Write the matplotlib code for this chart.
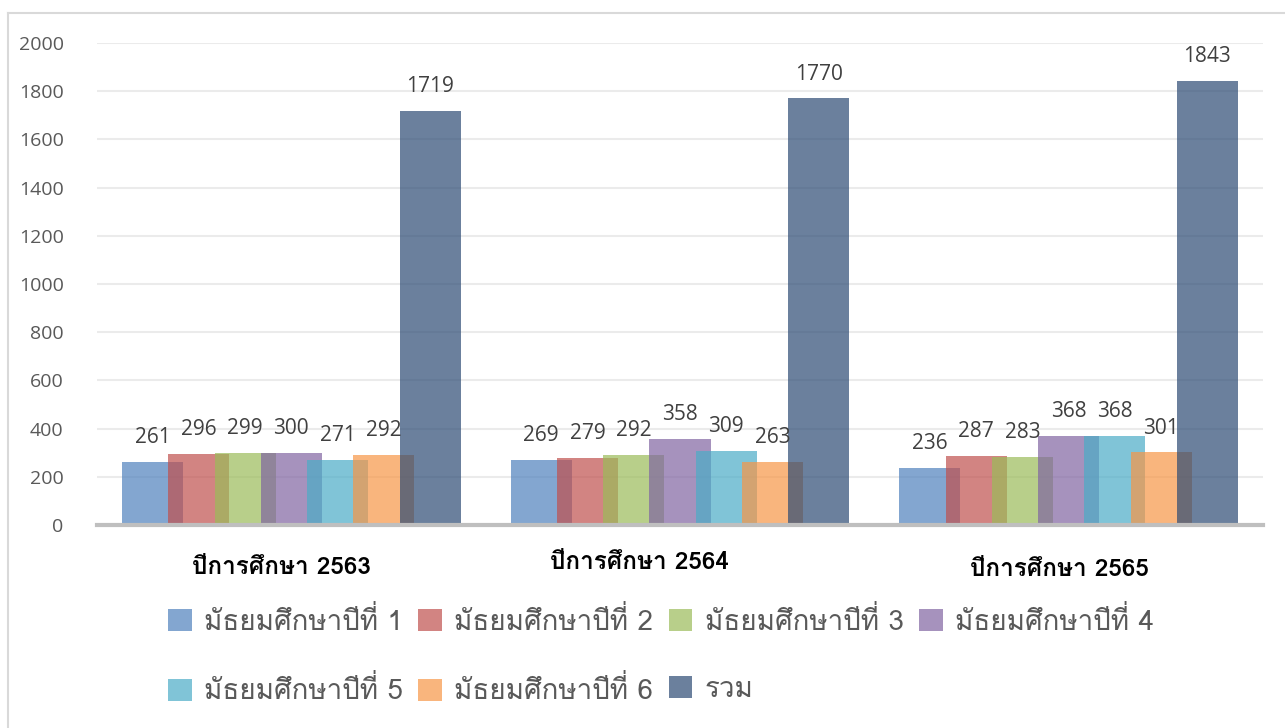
import numpy as np
import matplotlib
matplotlib.use('Agg')
import matplotlib.pyplot as plt
from matplotlib import font_manager as fm
from matplotlib.lines import Line2D
from matplotlib.patches import Patch
from fontTools.ttLib import TTFont

# ข้อมูลจำนวนนักเรียน
years = ['ปีการศึกษา 2563', 'ปีการศึกษา 2564', 'ปีการศึกษา 2565']
series_names = ['มัธยมศึกษาปีที่ 1', 'มัธยมศึกษาปีที่ 2', 'มัธยมศึกษาปีที่ 3',
                'มัธยมศึกษาปีที่ 4', 'มัธยมศึกษาปีที่ 5', 'มัธยมศึกษาปีที่ 6', 'รวม']
m1 = [261, 269, 236]
m2 = [296, 279, 287]
m3 = [299, 292, 283]
m4 = [300, 358, 368]
m5 = [271, 309, 368]
m6 = [292, 263, 301]
total = [1719, 1770, 1843]
yticks = [0, 200, 400, 600, 800, 1000, 1200, 1400, 1600, 1800, 2000]

colors = ['#4F81BD', '#C0504D', '#9BBB59', '#8064A2', '#4BACC6', '#F79646', '#2C4B74']


# หา font ที่มีอักษรไทย
def find_thai_font():
    found = []
    for f in fm.fontManager.ttflist:
        try:
            tt = TTFont(f.fname, fontNumber=0, lazy=True)
            cmap = tt.getBestCmap()
            if cmap and 0x0E21 in cmap and 0x0E35 in cmap:
                found.append(f.name)
        except Exception:
            pass
    return found


thai = find_thai_font()
num_font = 'Open Sans'
fam = ([thai[0]] if thai else []) + ['DejaVu Sans']
plt.rcParams['font.family'] = [num_font] + fam

fig = plt.figure(figsize=(12.85, 7.28), dpi=100)
W, H = 1285, 728
ax = fig.add_axes([97 / W, 1 - 525 / H, (1263 - 97) / W, (525 - 43) / H])

data = [m1, m2, m3, m4, m5, m6, total]
x = np.arange(len(years))
step = 0.119
width = 0.157
for i, vals in enumerate(data):
    pos = x + (i - 3) * step
    bars = ax.bar(pos, vals, width, color=colors[i], alpha=0.7, linewidth=0, zorder=2 + i)
    for b, v in zip(bars, vals):
        ax.annotate(str(v), (b.get_x() + b.get_width() / 2, v), xytext=(0, 10),
                    textcoords='offset points', ha='center', va='bottom',
                    fontsize=15, color='#404040', zorder=20)

ax.set_xlim(-0.5, 2.5)
ax.set_ylim(0, 2000)
ax.set_yticks(yticks)
ax.tick_params(axis='y', length=0, labelsize=14, labelcolor='#595959', pad=24)
ax.set_xticks([])
ax.grid(axis='y', color='#EBEBEB', linewidth=1.5, zorder=0)
for s in ['top', 'right', 'left']:
    ax.spines[s].set_visible(False)
ax.spines['bottom'].set_color('#BFBFBF')
ax.spines['bottom'].set_linewidth(3)
ax.spines['bottom'].set_zorder(30)

# ป้ายหมวดหมู่
lab_dx = [-0.025, -0.105, -0.025]
lab_y = [-0.088, -0.078, -0.092]
for i, name in enumerate(years):
    ax.text(x[i] + lab_dx[i], lab_y[i], name, transform=ax.get_xaxis_transform(),
            ha='center', va='center', fontsize=17.5, fontweight='bold',
            family=fam, color='black')

# legend เรียงแถว
handles = [Patch(facecolor=c, alpha=0.7, linewidth=0) for c in colors]
order = [0, 4, 1, 5, 2, 6, 3]
fig.legend([handles[k] for k in order], [series_names[k] for k in order],
           ncol=4, loc='upper left', bbox_to_anchor=(168 / W, 1 - 607 / H),
           frameon=False, prop={'family': fam, 'size': 20},
           labelcolor='#595959', handlelength=0.85, handleheight=0.85,
           handletextpad=0.45, columnspacing=0.55, labelspacing=1.45,
           borderaxespad=0, borderpad=0)

# กรอบ
fig.add_artist(Line2D([8 / W, 8 / W], [0, 1 - 13 / H], color='#D9D9D9', lw=1.5,
                      transform=fig.transFigure))
fig.add_artist(Line2D([8 / W, 1], [1 - 13 / H, 1 - 13 / H], color='#D9D9D9', lw=1.5,
                      transform=fig.transFigure))

fig.savefig('out.png', dpi=100)
